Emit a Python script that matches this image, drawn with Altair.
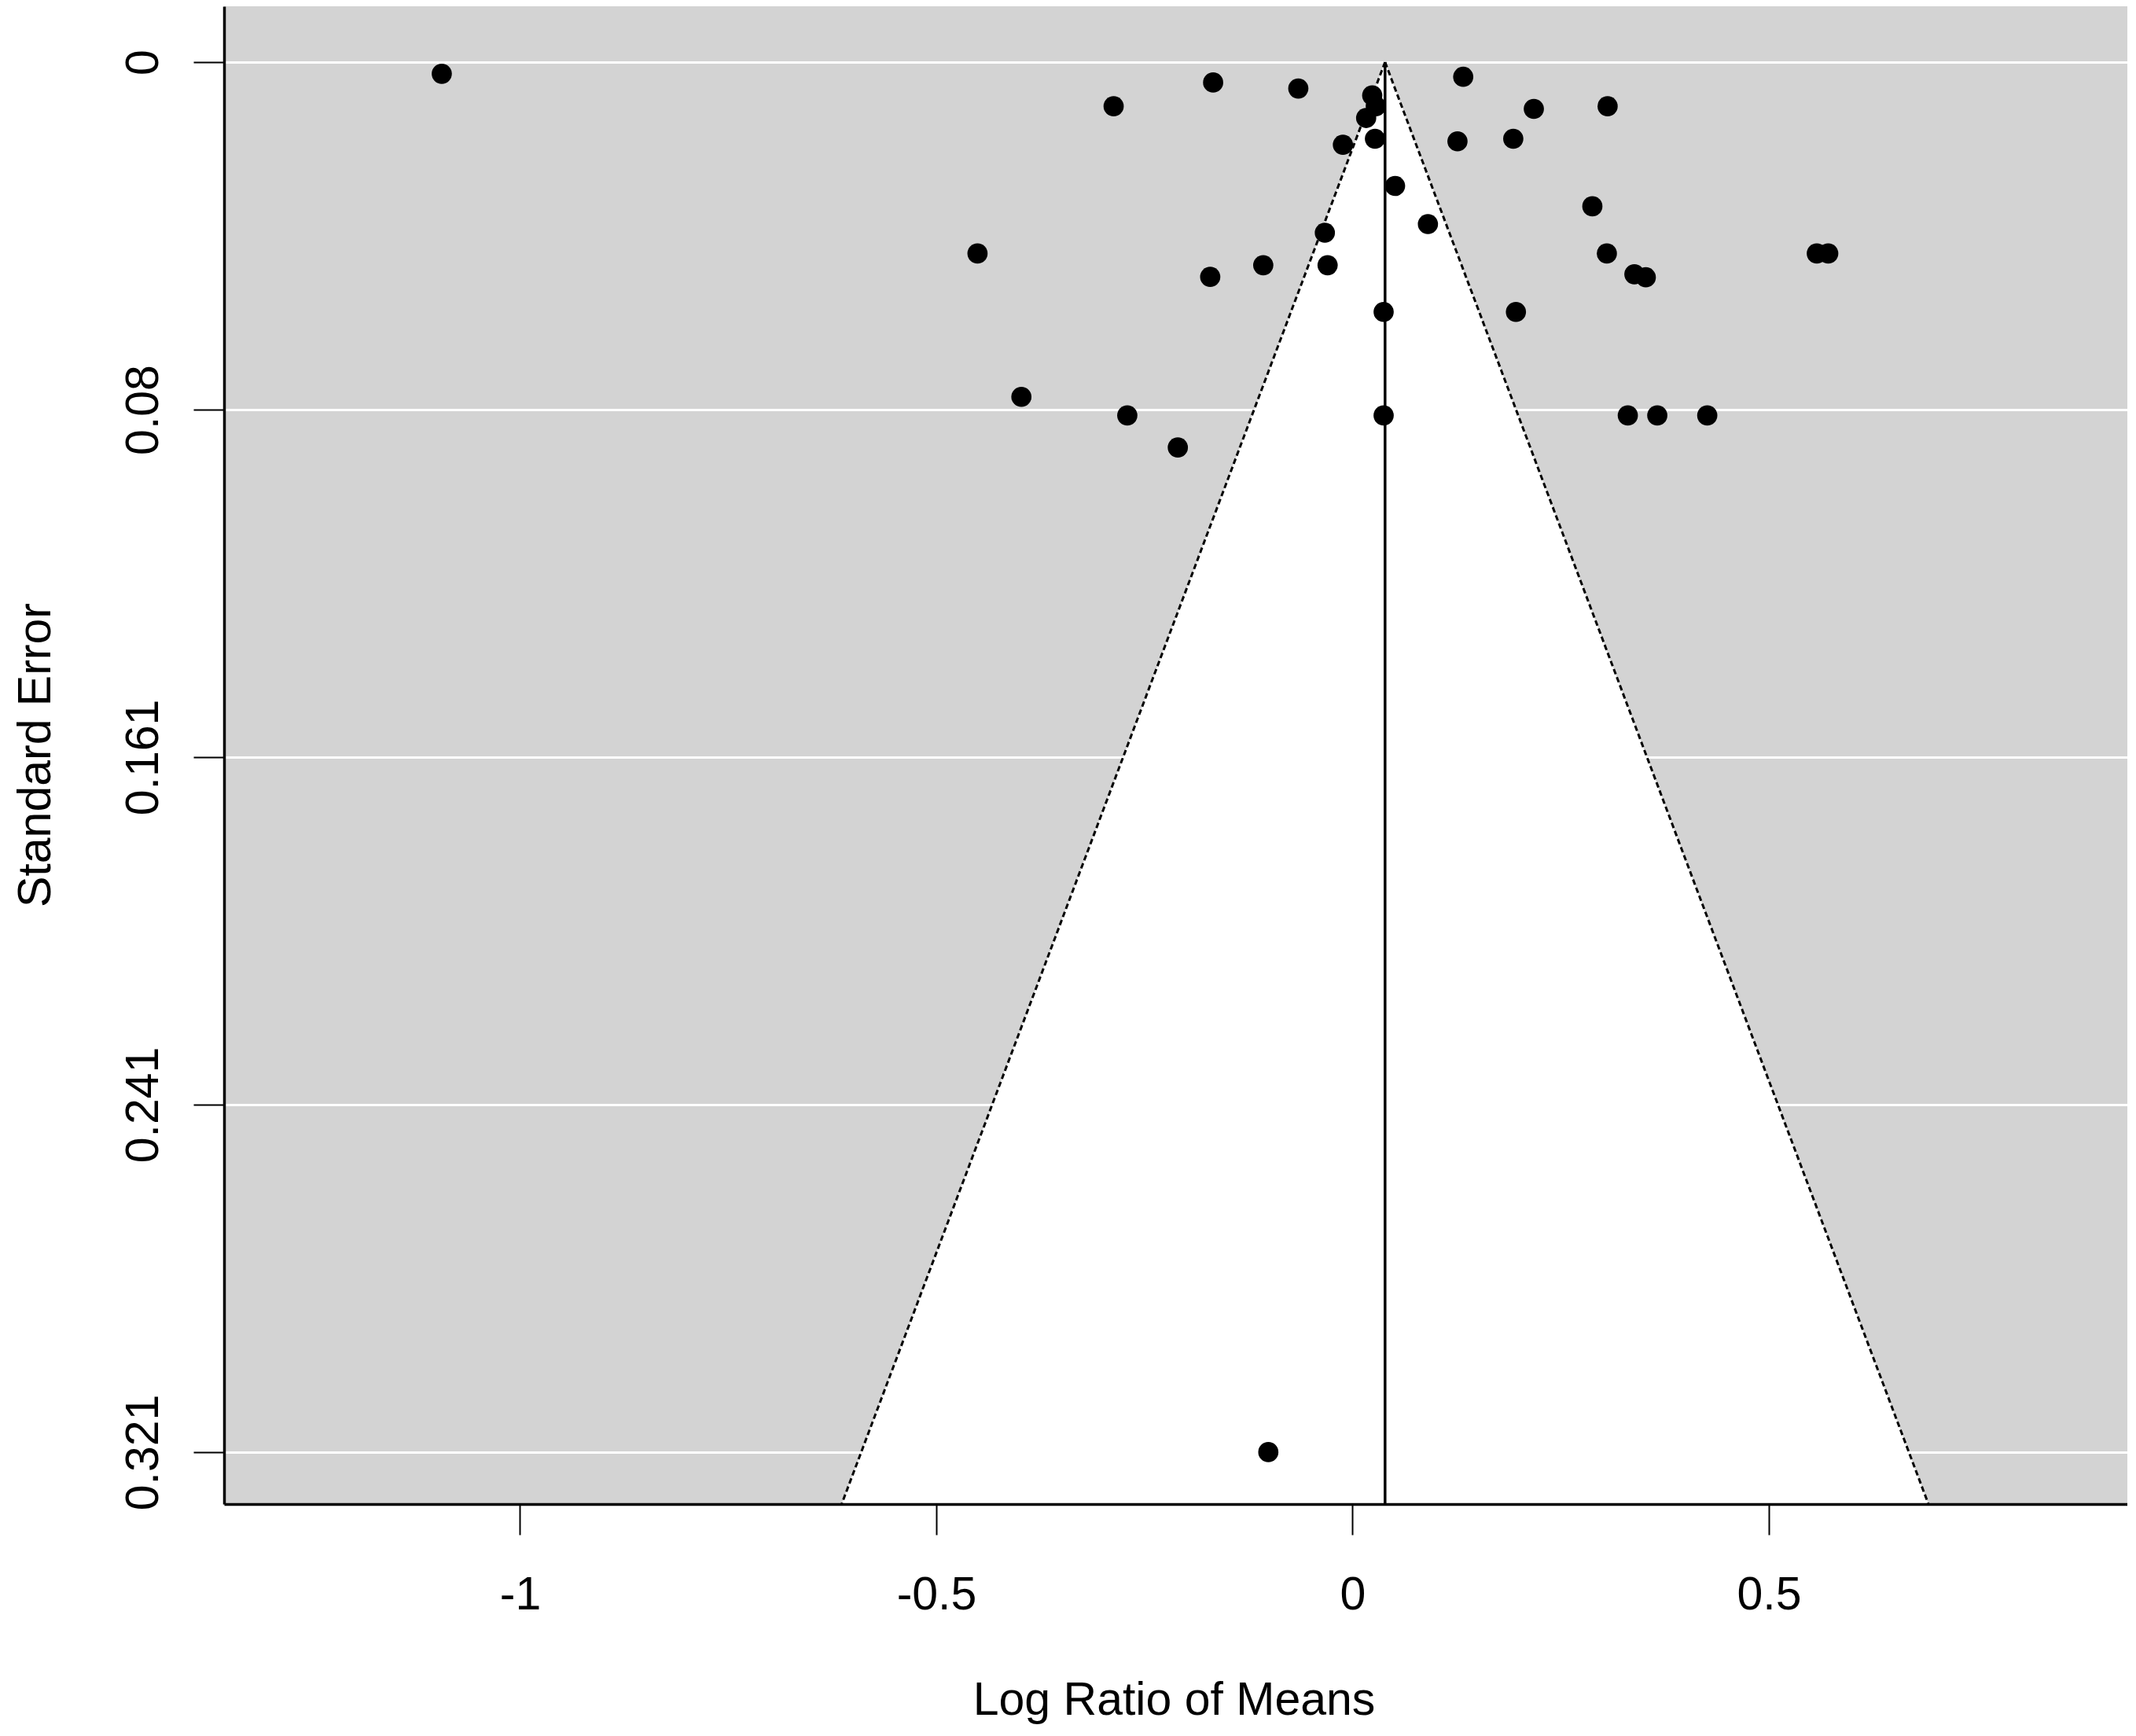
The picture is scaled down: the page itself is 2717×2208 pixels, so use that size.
import altair as alt
import pandas as pd

# Study estimates (log ratio of means) and their standard errors
lrm = [-1.094, -0.1675, -0.0652, -0.287, 0.1329, 0.2177, 0.3063, 0.0236, 0.0279, 0.0163,
       0.0269, -0.0116, 0.126, 0.193, 0.051, 0.0905, 0.288, -0.0333, -0.4505, -0.1073,
       -0.030, -0.171, 0.3054, 0.3385, 0.3522, 0.5576, 0.5713, 0.0373, 0.1962, -0.3978,
       -0.2706, 0.0373, 0.3306, 0.366, 0.426, -0.2099, -0.1012]
se = [0.0027, 0.0047, 0.0061, 0.0102, 0.0034, 0.0108, 0.0102, 0.0077, 0.0102, 0.0129,
      0.0177, 0.0191, 0.0183, 0.0177, 0.0286, 0.0374, 0.0333, 0.0394, 0.0442, 0.0469,
      0.0469, 0.0496, 0.0442, 0.0490, 0.0497, 0.0442, 0.0442, 0.0577, 0.0577, 0.0773,
      0.0816, 0.0816, 0.0816, 0.0816, 0.0816, 0.0890, 0.321]

# Pooled estimate and funnel (pseudo 95% limits)
estimate = 0.039
z_crit = 1.96
funnel_se = [0.0, 0.3330]

# Axis ticks and labels
x_ticks = [-1, -0.5, 0, 0.5]
y_ticks = [0, 0.08025, 0.1605, 0.24075, 0.321]
y_labels = ["0", "0.08", "0.161", "0.241", "0.321"]

x_domain = [-1.3555, 0.9306]
y_domain = [-0.01289, 0.3330]

FONT = "Liberation Sans"
FS = 59

points_df = pd.DataFrame({"lrm": lrm, "se": se})
funnel_df = pd.DataFrame({"se": funnel_se})
rule_df = pd.DataFrame({"est": [estimate], "top": [funnel_se[0]], "bot": [funnel_se[-1]]})

xscale = alt.Scale(domain=x_domain, nice=False, zero=False)
yscale = alt.Scale(domain=y_domain, nice=False, zero=False, reverse=True)

y_label_expr = " : ".join(f"datum.value == {v} ? '{l}'" for v, l in zip(y_ticks, y_labels)) + " : ''"

x_axis = alt.Axis(
    values=x_ticks, labelExpr="'' + datum.value", title="Log Ratio of Means",
    grid=False, domainColor="black", domainWidth=3.5, tickColor="black", tickWidth=2,
    tickSize=39, labelPadding=94, labelBaseline="alphabetic", labelAlign="center",
    labelFont=FONT, labelFontSize=FS, labelColor="black", labelFlush=False, labelOverlap=False,
    titleFont=FONT, titleFontSize=FS, titleFontWeight="normal", titleColor="black",
    titleX=1208, titleY=267, titleBaseline="alphabetic", titleAlign="center", zindex=1,
)
y_axis = alt.Axis(
    values=y_ticks, labelExpr=y_label_expr, title="Standard Error",
    grid=True, gridColor="white", gridWidth=3, gridOpacity=1,
    domainColor="black", domainWidth=3.5, tickColor="black", tickWidth=2,
    tickSize=39, labelPadding=46, labelAngle=270, labelAlign="center", labelBaseline="alphabetic",
    labelFont=FONT, labelFontSize=FS, labelColor="black", labelFlush=False, labelOverlap=False,
    titleFont=FONT, titleFontSize=FS, titleFontWeight="normal", titleColor="black",
    titleAngle=270, titleX=-222, titleY=952, titleBaseline="alphabetic", titleAlign="center",
    zindex=0,
)

base_f = alt.Chart(funnel_df).transform_calculate(
    lo=f"{estimate} - {z_crit} * datum.se",
    hi=f"{estimate} + {z_crit} * datum.se",
)

funnel_area = base_f.mark_area(orient="horizontal", color="white", opacity=1).encode(
    y=alt.Y("se:Q", scale=yscale, axis=y_axis),
    x=alt.X("lo:Q", scale=xscale, axis=x_axis),
    x2="hi:Q",
)

funnel_lines = base_f.transform_fold(["lo", "hi"], as_=["side", "xv"]).mark_line(
    color="black", strokeDash=[7, 4], strokeWidth=3
).encode(
    x=alt.X("xv:Q", scale=xscale, axis=x_axis),
    y=alt.Y("se:Q", scale=yscale, axis=y_axis),
    detail="side:N",
    order="se:Q",
)

est_rule = alt.Chart(rule_df).mark_rule(color="black", strokeWidth=3.5).encode(
    x=alt.X("est:Q", scale=xscale, axis=x_axis),
    y=alt.Y("top:Q", scale=yscale, axis=y_axis),
    y2="bot:Q",
)

pts = alt.Chart(points_df).mark_circle(size=660, color="black", opacity=1).encode(
    x=alt.X("lrm:Q", scale=xscale, axis=x_axis),
    y=alt.Y("se:Q", scale=yscale, axis=y_axis),
)

chart = alt.layer(funnel_area, funnel_lines, est_rule, pts).properties(
    width=2421, height=1905,
    autosize=alt.AutoSizeParams(type="none"),
    padding={"left": 277, "top": 0, "right": 0, "bottom": 280},
).configure_view(fill="#d3d3d3", strokeWidth=0)

chart.save("out.html", embed_options={"renderer": "svg", "actions": False})
